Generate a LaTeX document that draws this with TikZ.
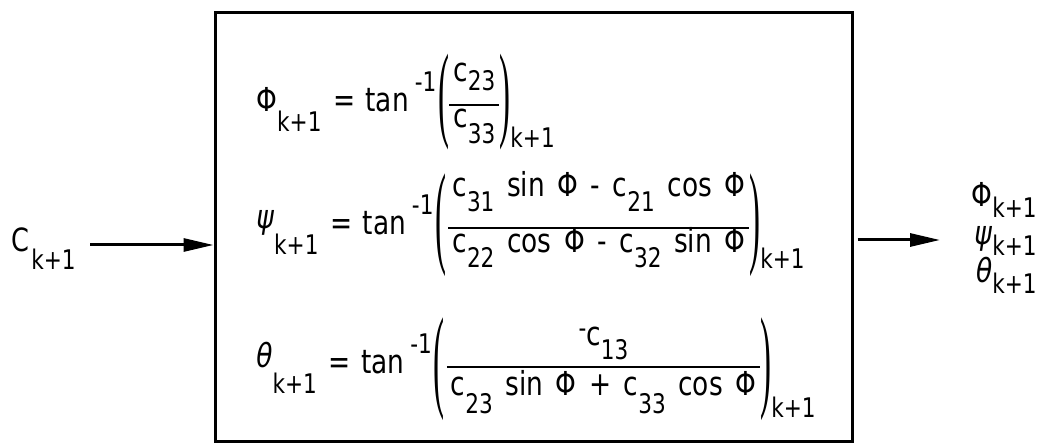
\documentclass[tikz,border=0pt]{standalone}
\usepackage{fontspec}
\setmainfont{DejaVu Sans}[FakeStretch=0.8, WordSpace=1.5]
\newfontfamily\parfont{Liberation Serif}
\usepackage{graphicx}
\usetikzlibrary{arrows.meta, positioning}

% index text kept large and set far off the line, as in the drawing
\newcommand{\sv}[1]{\mbox{\fontsize{13.5}{14}\selectfont #1}}
\newcommand{\dn}[2][7.5pt]{\raisebox{-#1}{\sv{#2}}}
\newcommand{\up}[2][10pt]{\raisebox{#1}{\sv{#2}}}
% tall bracket: #1 glyph, #2 top above baseline, #3 bottom below baseline
\newcommand{\tallpar}[3]{\sbox0{\parfont #1}%
  \raisebox{-#3}{\resizebox{\width}{\dimexpr#2+#3\relax}{\raisebox{\dp0}{\usebox0}}}}
% fraction: #1 bar raise, #2 numerator raise, #3 numerator, #4 denominator drop, #5 denominator
\newsavebox\numbox \newsavebox\denbox \newlength\frw
\newcommand{\frc}[5]{\sbox\numbox{#3}\sbox\denbox{#5}%
  \setlength\frw{\wd\numbox}\ifdim\wd\denbox>\frw \setlength\frw{\wd\denbox}\fi
  \addtolength\frw{4pt}%
  \rlap{\raisebox{#2}{\makebox[\frw]{\usebox\numbox}}}%
  \rlap{\raisebox{#1}{\rule{\frw}{0.9pt}}}%
  \raisebox{-#4}{\makebox[\frw]{\usebox\denbox}}}

\begin{document}
\begin{tikzpicture}[
    x=0.5pt, y=0.5pt,
    font=\fontsize{16.5}{20}\selectfont,
    box/.style={draw, line width=1.5pt, inner sep=0pt},
    flow/.style={-{Triangle[length=15pt, width=6.5pt]}, line width=1.5pt},
    eq/.style={anchor=base west, inner sep=0pt},
]
\useasboundingbox (0,0) rectangle (1042,443);

% --- the computing block ---------------------------------------------------
\node[box, minimum width=318.5pt, minimum height=214.5pt] (block) at (533.5,215.5) {};

\node[eq] (phieq) at (256,331)
    {Φ\dn[10pt]{k+1}\hspace{6pt}=\hspace{5pt}tan\hspace{3pt}\up{-1}\hspace{1pt}%
     \tallpar{(}{29pt}{19pt}%
     \frc{3pt}{15pt}{c\dn[4.5pt]{23}}{8pt}{c\dn[8pt]{33}}%
     \tallpar{)}{29pt}{19pt}\dn[18pt]{k+1}};
\node[eq] (psieq) at (256,208)
    {\raisebox{3pt}{\textit{ψ}}\dn[10pt]{k+1}\hspace{6pt}=\hspace{5pt}tan\hspace{3pt}\up{-1}\hspace{1pt}%
     \tallpar{(}{30.5pt}{21pt}\hspace{1pt}%
     \frc{3pt}{19pt}{c\dn{31} sin Φ - c\dn{21} cos Φ}{9pt}{c\dn{22} cos Φ - c\dn{32} sin Φ}%
     \tallpar{)}{30.5pt}{21pt}\dn[17pt]{k+1}};
\node[eq] (thetaeq) at (256,69)
    {\raisebox{3pt}{\textit{θ}}\dn[10pt]{k+1}\hspace{6pt}=\hspace{5pt}tan\hspace{3pt}\up{-1}\hspace{1pt}%
     \tallpar{(}{28pt}{23.5pt}\hspace{1pt}%
     \frc{3pt}{14pt}{\raisebox{4pt}{\sv{-}}c\dn[7pt]{13}}{11pt}{c\dn[9pt]{23} sin Φ + c\dn[9pt]{33} cos Φ}%
     \tallpar{)}{28pt}{23.5pt}\dn[22pt]{k+1}};

% --- input and output --------------------------------------------------------
\node[anchor=base west, inner sep=0pt, font=\fontsize{16}{17}\selectfont] (cin) at (11,191)
    {C\hspace{1pt}\dn[9pt]{k+1}};
\coordinate (inpt) at (90,198);
\draw[flow] (inpt) -- (inpt -| block.west);

\node[align=right, anchor=north east, inner sep=0pt,
      font=\fontsize{16.5}{19}\selectfont] (cout) at (1037,261)
    {Φ\dn[5.5pt]{k+1}\\ \textit{ψ}\dn[5.5pt]{k+1}\\ \textit{θ}\dn[5.5pt]{k+1}};
\coordinate (outpt) at (940,203);
\draw[flow] ([xshift=2pt]block.east |- outpt) -- (outpt);

\end{tikzpicture}
\end{document}
